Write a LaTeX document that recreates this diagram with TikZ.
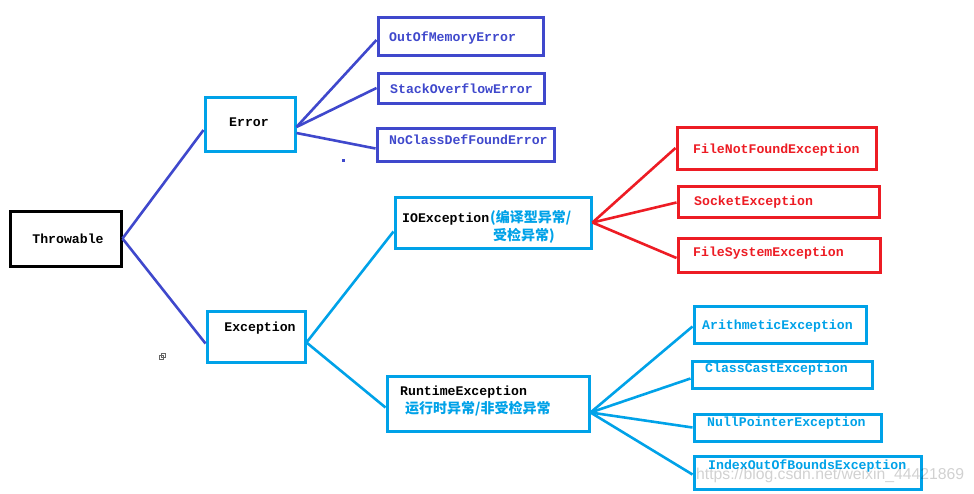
\documentclass[tikz,border=0pt]{standalone}
\usepackage{fontspec}
\setmonofont{Liberation Mono}
\newfontfamily\cjk{Noto Sans CJK SC}
\newfontfamily\wmfont{Liberation Sans}
\definecolor{ind}{RGB}{63,72,204}
\definecolor{cy}{RGB}{0,162,232}
\definecolor{rd}{RGB}{237,28,36}
\tikzset{
  box/.style={draw, line width=3pt, inner sep=0pt, fill=white},
  lbl/.style={font=\ttfamily\bfseries\fontsize{13.2}{15}\selectfont, inner sep=0pt, anchor=west},
  cjklbl/.style={font=\cjk\bfseries\fontsize{14}{16}\selectfont, inner sep=0pt, anchor=west, text=cy},
  conn/.style={line width=2.6pt}
}
\begin{document}
\begin{tikzpicture}[x=1pt,y=-1pt]
\useasboundingbox (0,0) rectangle (974,493);
% boxes
\node[box, draw=black, minimum width=111pt, minimum height=55pt] (thr) at (65.5,238.5) {};
\node[box, draw=cy, minimum width=90pt, minimum height=54pt] (err) at (250,124) {};
\node[box, draw=cy, minimum width=98pt, minimum height=51pt] (exc) at (256,336.5) {};
\node[box, draw=ind, minimum width=165pt, minimum height=38pt] (oom) at (460.5,36) {};
\node[box, draw=ind, minimum width=166pt, minimum height=30pt] (so) at (461,88) {};
\node[box, draw=ind, minimum width=177pt, minimum height=33pt] (ncd) at (465.5,144.5) {};
\node[box, draw=cy, minimum width=196pt, minimum height=51pt] (io) at (493,222.5) {};
\node[box, draw=cy, minimum width=202pt, minimum height=55pt] (rt) at (488,403.5) {};
\node[box, draw=rd, minimum width=199pt, minimum height=42pt] (fnf) at (776.5,148) {};
\node[box, draw=rd, minimum width=201pt, minimum height=31pt] (se) at (778.5,201.5) {};
\node[box, draw=rd, minimum width=202pt, minimum height=34pt] (fs) at (779,255) {};
\node[box, draw=cy, minimum width=172pt, minimum height=37pt] (ar) at (780,324.5) {};
\node[box, draw=cy, minimum width=180pt, minimum height=27pt] (cc) at (782,374.5) {};
\node[box, draw=cy, minimum width=187pt, minimum height=27pt] (np) at (787.5,427.5) {};
\node[box, draw=cy, minimum width=227pt, minimum height=33pt] (ioob) at (807.5,472.5) {};
% labels
\node[lbl, anchor=center] (tthr) at (68,239) {Throwable};
\node[lbl, anchor=center] (terr) at (249,122) {Error};
\node[lbl, anchor=center] (texc) at (260,328) {Exception};
\node[lbl, text=ind] (toom) at (389,38) {OutOfMemoryError};
\node[lbl, text=ind] (tso) at (390,89) {StackOverflowError};
\node[lbl, text=ind] (tncd) at (389,140) {NoClassDefFoundError};
\node[lbl] (tio) at (402,219) {IOException};
\node[cjklbl] (tio2) at (490,218) {(编译型异常/};
\node[cjklbl] (tio3) at (493,236) {受检异常)};
\node[lbl] (trt) at (400,392) {RuntimeException};
\node[cjklbl] (trt2) at (405,409) {运行时异常/非受检异常};
\node[lbl, text=rd] (tfnf) at (693,150) {FileNotFoundException};
\node[lbl, text=rd] (tse) at (694,202) {SocketException};
\node[lbl, text=rd] (tfs) at (693,253) {FileSystemException};
\node[lbl, text=cy] (tar) at (702,326) {ArithmeticException};
\node[lbl, text=cy] (tcc) at (705,369) {ClassCastException};
\node[lbl, text=cy] (tnp) at (707,423) {NullPointerException};
\node[lbl, text=cy] (tioob) at (708,466) {IndexOutOfBoundsException};
% connectors
\begin{scope}[conn, draw=ind]
\draw (thr.east) -- ([yshift=-6pt]err.west);
\draw (thr.east) -- ([yshift=-7pt]exc.west);
\draw ([yshift=-3pt]err.east) -- ([yshift=-4pt]oom.west);
\draw ([yshift=-3pt]err.east) -- (so.west);
\draw ([yshift=-9pt]err.east) -- ([yshift=-4pt]ncd.west);
\end{scope}
\begin{scope}[conn, draw=cy]
\draw ([yshift=-6pt]exc.east) -- ([yshift=-9pt]io.west);
\draw ([yshift=-6pt]exc.east) -- ([yshift=-4pt]rt.west);
\draw ([yshift=-9pt]rt.east) -- ([yshift=-2pt]ar.west);
\draw ([yshift=-9pt]rt.east) -- ([yshift=-4pt]cc.west);
\draw ([yshift=-9pt]rt.east) -- (np.west);
\draw ([yshift=-9pt]rt.east) -- ([yshift=-2pt]ioob.west);
\end{scope}
\begin{scope}[conn, draw=rd]
\draw (io.east) -- (fnf.west);
\draw (io.east) -- ([yshift=-1pt]se.west);
\draw (io.east) -- ([yshift=-3pt]fs.west);
\end{scope}
% small artifacts
\fill[ind] (342,158.5) rectangle (345,161.5);
\draw[gray!80!black, line width=0.8pt] (159,355) rectangle (163,359) (161,353) rectangle (165,357);
% watermark
\node[font=\wmfont\fontsize{17}{19}\selectfont, text=black, opacity=0.18, inner sep=0pt, anchor=west] (wm) at (696,475) {\resizebox{268pt}{!}{https://blog.csdn.net/weixin\_44421869}};
\end{tikzpicture}
\end{document}
